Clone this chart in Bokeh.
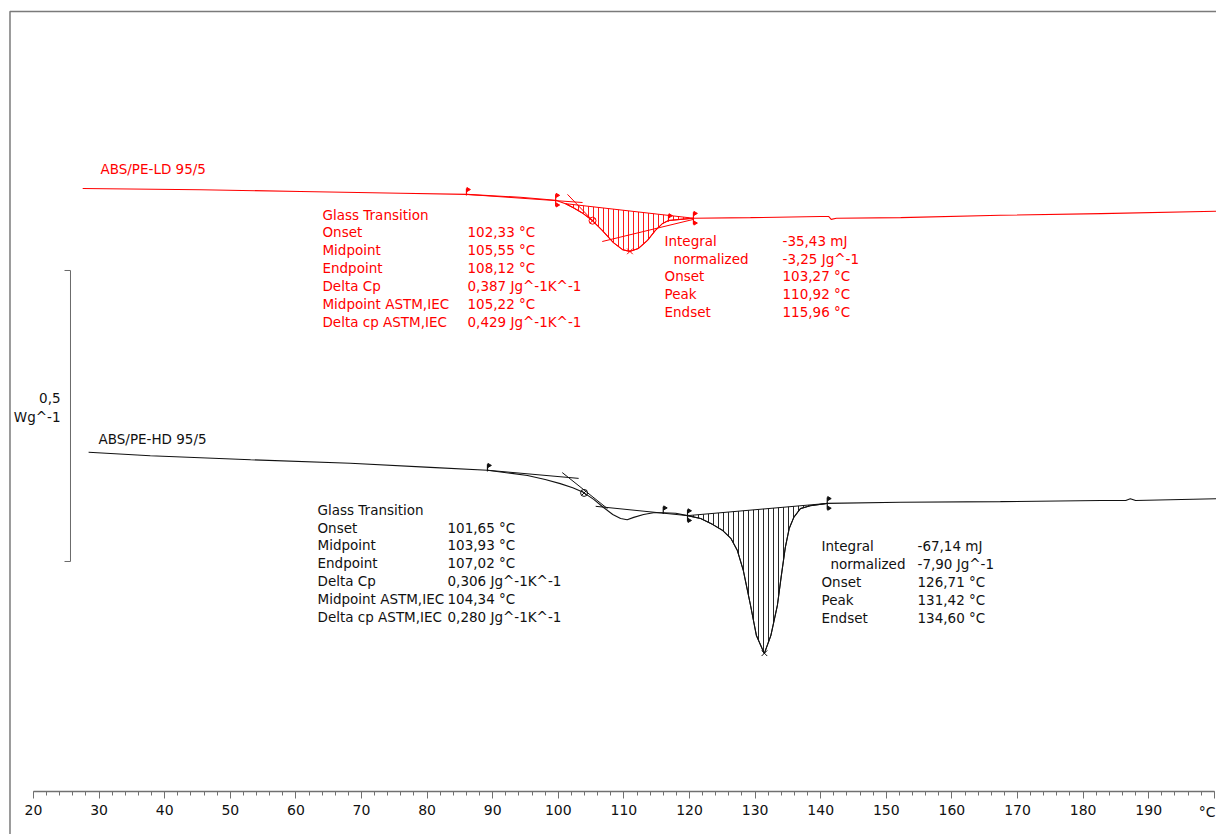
import numpy as np
from bokeh.plotting import figure
from bokeh.models import FixedTicker, Range1d
from bokeh.embed import file_html
from bokeh.resources import INLINE
from bokeh.core.properties import value

# ---------------- data (temperature in °C, heat flow in W/g with display offset) ----------------
ld_name = "ABS/PE-LD 95/5"
ld_T = [27.5, 45.5, 60.7, 76.0, 86.0, 94.2, 99.6, 101.1, 102.3, 103.8, 105.2, 106.7, 108.4, 109.8,
        110.9, 112.2, 113.6, 114.8, 115.9, 116.8, 118.6, 120.6, 129.3, 140.0, 141.2, 141.6, 142.4,
        152.2, 167.4, 182.7, 200.3]
ld_hf = [1.036, 1.034, 1.031, 1.028, 1.026, 1.021, 1.016, 1.010, 1.003, 0.993, 0.981, 0.964, 0.943,
         0.931, 0.928, 0.933, 0.947, 0.964, 0.976, 0.981, 0.983, 0.985, 0.986, 0.988, 0.988, 0.983,
         0.985, 0.986, 0.990, 0.993, 0.997]

hd_name = "ABS/PE-HD 95/5"
hd_T = [28.4, 37.8, 53.1, 68.3, 80.5, 89.2, 95.3, 98.0, 100.3, 102.2, 103.8, 105.4, 106.9, 108.3,
        109.5, 110.5, 111.5, 113.0, 114.5, 116.0, 117.9, 119.7, 121.7, 123.5, 125.0, 126.3, 127.3,
        128.2, 129.3, 130.2, 131.4, 132.4, 133.4, 134.0, 134.6, 135.2, 135.9, 136.9, 138.4, 141.0,
        152.2, 167.4, 182.7, 186.5, 187.2, 188.0, 200.3]
hd_hf = [0.583, 0.577, 0.570, 0.564, 0.557, 0.552, 0.543, 0.536, 0.529, 0.522, 0.514, 0.502, 0.488,
         0.476, 0.469, 0.467, 0.471, 0.476, 0.479, 0.479, 0.478, 0.474, 0.469, 0.459, 0.449, 0.435,
         0.414, 0.380, 0.320, 0.268, 0.237, 0.268, 0.320, 0.371, 0.419, 0.452, 0.471, 0.486, 0.491,
         0.495, 0.497, 0.498, 0.500, 0.500, 0.503, 0.500, 0.503]

# evaluation construction lines (T, hf)
ld_pre_T, ld_pre_hf = [86.0, 103.7], [1.026, 1.012]
ld_steep_T, ld_steep_hf = [101.4, 106.0], [1.026, 0.972]
ld_post_T, ld_post_hf = [106.7, 120.6], [0.945, 0.983]
ld_peak_range = [101.1, 120.6]
ld_limits = [86.0, 99.6, 116.8, 120.6]
ld_limit_double = [False, True, False, True]
ld_mid_T = 105.22
ld_peak_T = 110.92

hd_pre_T, hd_pre_hf = [89.2, 103.1], [0.552, 0.538]
hd_steep_T, hd_steep_hf = [100.6, 107.5], [0.548, 0.486]
hd_post_T, hd_post_hf = [105.7, 119.7], [0.490, 0.474]
hd_peak_range = [119.7, 141.0]
hd_limits = [89.2, 116.0, 119.7, 141.0]
hd_limit_double = [False, False, True, True]
hd_mid_T = 103.93
hd_peak_T = 131.42

# result tables
gt_labels = ["Glass Transition", "Onset", "Midpoint", "Endpoint", "Delta Cp",
             "Midpoint ASTM,IEC", "Delta cp ASTM,IEC"]
ld_gt_values = ["", "102,33 °C", "105,55 °C", "108,12 °C", "0,387 Jg^-1K^-1", "105,22 °C",
                "0,429 Jg^-1K^-1"]
hd_gt_values = ["", "101,65 °C", "103,93 °C", "107,02 °C", "0,306 Jg^-1K^-1", "104,34 °C",
                "0,280 Jg^-1K^-1"]
int_labels = ["Integral", "normalized", "Onset", "Peak", "Endset"]
ld_int_values = ["-35,43 mJ", "-3,25 Jg^-1", "103,27 °C", "110,92 °C", "115,96 °C"]
hd_int_values = ["-67,14 mJ", "-7,90 Jg^-1", "126,71 °C", "131,42 °C", "134,60 °C"]

x_major = list(range(20, 201, 10))
x_minor = list(range(20, 201, 2))
x_unit = "°C"
scalebar_value = 0.5
scalebar_text = ["0,5", "Wg^-1"]

# ---------------- figure ----------------
RED = "#ff0000"
BLK = "#111111"
FONT = value("DejaVu Sans")
FS = "13.5px"
ROW = 0.0309  # text row spacing in W/g units

p = figure(width=1216, height=834, x_range=Range1d(14.970, 200.335),
           y_range=Range1d(-0.07388, 1.35911),
           output_backend="svg", toolbar_location=None, y_axis_location=None,
           min_border_left=0, min_border_right=0, min_border_top=0, min_border_bottom=0)
p.grid.visible = False
p.outline_line_color = None
p.background_fill_color = "white"
p.border_fill_color = "white"

xa = p.xaxis[0]
xa.fixed_location = 0
xa.ticker = FixedTicker(ticks=x_major, minor_ticks=x_minor)
xa.bounds = (20, 200)
xa.major_label_overrides = {200: ""}
xa.axis_line_color = "#707070"
xa.axis_line_width = 1.3
xa.major_tick_line_color = "#707070"
xa.minor_tick_line_color = "#707070"
xa.major_tick_in = 0
xa.major_tick_out = 7
xa.minor_tick_in = 0
xa.minor_tick_out = 4
xa.major_label_standoff = 6
xa.major_label_text_font = "DejaVu Sans"
xa.major_label_text_font_size = "14px"
xa.major_label_text_color = BLK

p.text(x=[200.18], y=[-0.0344], text=[x_unit], text_align="right", text_baseline="middle",
       text_font=FONT, text_font_size="14px", text_color=BLK)

# frame (left and top border)
p.line([16.418, 16.418, 201.0], [-0.2, 1.3402, 1.3402], line_color="#7a7a7a", line_width=1.5)

# scale bar
sb_bot = 0.3952
sb_top = sb_bot + scalebar_value
p.line([24.73, 25.64, 25.64, 24.73], [sb_top, sb_top, sb_bot, sb_bot], line_color="#6a6a6a", line_width=1)
p.text(x=[24.12, 24.12], y=[0.6753, 0.6443], text=scalebar_text, text_align="right",
       text_baseline="middle", text_font=FONT, text_font_size=FS, text_color=BLK)


def draw_curve(T, hf, color, pre, steep, post, prange, limits, dbl, midT, peakT):
    T = np.array(T)
    hf = np.array(hf)
    # hatched peak area
    m = (T >= prange[0] - 1e-6) & (T <= prange[1] + 1e-6)
    p.patch(T[m], hf[m], fill_alpha=0, line_color=color, line_width=1,
            hatch_pattern="|", hatch_color=color, hatch_scale=5, hatch_weight=1, hatch_alpha=0.9)
    # construction lines
    for (lx, ly) in (pre, steep, post):
        p.line(lx, ly, line_color=color, line_width=1)
    # curve
    p.line(T, hf, line_color=color, line_width=1.1)
    # limit flags
    ly = np.interp(limits, T, hf)
    h = 0.0103
    y0 = [y - h if d else y - 0.002 for y, d in zip(ly, dbl)]
    y1 = [y + h for y in ly]
    p.segment(x0=limits, y0=y0, x1=limits, y1=y1, line_color=color, line_width=1.2)
    p.scatter(x=[t + 0.25 for t in limits], y=[y - 0.002 for y in y1], marker="triangle",
              size=4, angle=-np.pi / 2, fill_color=color, line_color=color)
    lows = [t for t, d in zip(limits, dbl) if d]
    lowy = [y - h for y, d in zip(ly, dbl) if d]
    p.scatter(x=[t + 0.25 for t in lows], y=[y + 0.002 for y in lowy], marker="triangle",
              size=4, angle=-np.pi / 2, fill_color=color, line_color=color)
    # midpoint and peak markers
    p.scatter(x=[midT], y=[np.interp(midT, T, hf)], marker="circle_x", size=7,
              fill_alpha=0, line_color=color, line_width=1)
    p.scatter(x=[peakT], y=[np.interp(peakT, T, hf)], marker="x", size=8,
              line_color=color, line_width=1)


draw_curve(ld_T, ld_hf, RED, (ld_pre_T, ld_pre_hf), (ld_steep_T, ld_steep_hf),
           (ld_post_T, ld_post_hf), ld_peak_range, ld_limits, ld_limit_double, ld_mid_T, ld_peak_T)
draw_curve(hd_T, hd_hf, BLK, (hd_pre_T, hd_pre_hf), (hd_steep_T, hd_steep_hf),
           (hd_post_T, hd_post_hf), hd_peak_range, hd_limits, hd_limit_double, hd_mid_T, hd_peak_T)


def block(x_lab, x_val, y0, labels, values, color, x_norm=None):
    n = len(labels)
    ys = [y0 - i * ROW for i in range(n)]
    xs = [x_lab] * n
    if x_norm is not None:
        xs[1] = x_norm
    p.text(x=xs, y=ys, text=labels, text_baseline="middle", text_font=FONT,
           text_font_size=FS, text_color=color)
    p.text(x=[x_val] * n, y=ys, text=values, text_baseline="middle", text_font=FONT,
           text_font_size=FS, text_color=color)


# titles
p.text(x=[30.21], y=[1.0704], text=[ld_name], text_baseline="middle", text_font=FONT,
       text_font_size=FS, text_color=RED)
p.text(x=[29.91], y=[0.6065], text=[hd_name], text_baseline="middle", text_font=FONT,
       text_font_size=FS, text_color=BLK)

block(64.05, 86.16, 0.9914, gt_labels, ld_gt_values, RED)
block(116.19, 134.18, 0.9467, int_labels, ld_int_values, RED, x_norm=117.56)
block(63.29, 83.11, 0.4845, gt_labels, hd_gt_values, BLK)
block(140.12, 154.76, 0.4210, int_labels, hd_int_values, BLK, x_norm=141.49)

open("out.html", "w").write(file_html(p, INLINE))
